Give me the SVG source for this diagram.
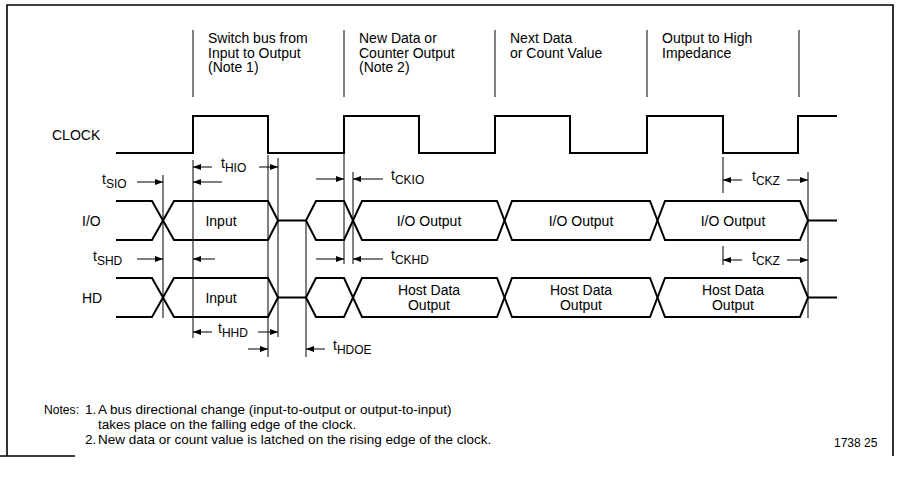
<svg xmlns="http://www.w3.org/2000/svg" width="898" height="477" viewBox="0 0 898 477">
<defs>
<style>
.t{font-family:"Liberation Sans",Arial,sans-serif;font-size:14px;fill:#000}
.s{font-size:12px}
.n{font-family:"Liberation Sans",Arial,sans-serif;font-size:13.5px;fill:#000}
.sig{fill:none;stroke:#000;stroke-width:2}
.mk{fill:none;stroke:#000;stroke-width:1}
.fr{fill:none;stroke:#000;stroke-width:1.6}
</style>
<marker id="ah" viewBox="0 0 8 6" refX="8" refY="3" markerWidth="8" markerHeight="6" markerUnits="userSpaceOnUse" orient="auto">
<path d="M0,0 L8,3 L0,6 Z" fill="#000"/>
</marker>
</defs>
<rect width="898" height="477" fill="#fff"/>
<g id="frame">
<path class="fr" d="M7,456 V5 H893 V456"/>
<path class="fr" d="M0,456 H75"/>
</g>
<g id="headers">
<path class="mk" d="M193,30 V97 M344,30 V97 M495,30 V97 M647,30 V97 M799,30 V97"/>
<text class="t" x="208" y="43">Switch bus from</text>
<text class="t" x="208" y="57.5">Input to Output</text>
<text class="t" x="208" y="72">(Note 1)</text>
<text class="t" x="359" y="43">New Data or</text>
<text class="t" x="359" y="57.5">Counter Output</text>
<text class="t" x="359" y="72">(Note 2)</text>
<text class="t" x="510" y="43">Next Data</text>
<text class="t" x="510" y="57.5">or Count Value</text>
<text class="t" x="662" y="43">Output to High</text>
<text class="t" x="662" y="57.5">Impedance</text>
</g>
<g id="clock">
<text class="t" x="52" y="140">CLOCK</text>
<path class="sig" d="M116,153 H193 V116 H268 V153 H344 V116 H419 V153 H495 V116 H570 V153 H647 V116 H723 V153 H798 V116 H837"/>
</g>
<g id="io">
<text class="t" x="82" y="225.5">I/O</text>
<path class="sig" d="M116,201 H152 L174,240 H268 L278,220.5 L268,201 H174 L152,240 H116"/>
<path class="sig" d="M278,220.5 H306 L316,201 H344 L362,240 H497 L512,201 H650 L665,240 H800 L808,220.5 H837"/>
<path class="sig" d="M306,220.5 L316,240 H344 L362,201 H497 L512,240 H650 L665,201 H800 L808,220.5"/>
<text class="t" x="221" y="225.5" text-anchor="middle">Input</text>
<text class="t" x="429" y="225.5" text-anchor="middle">I/O Output</text>
<text class="t" x="581" y="225.5" text-anchor="middle">I/O Output</text>
<text class="t" x="733" y="225.5" text-anchor="middle">I/O Output</text>
</g>
<g id="hd">
<text class="t" x="82" y="303">HD</text>
<path class="sig" d="M116,278 H152 L174,317 H268 L278,297.5 L268,278 H174 L152,317 H116"/>
<path class="sig" d="M278,297.5 H306 L316,278 H344 L362,317 H497 L512,278 H650 L665,317 H800 L808,297.5 H837"/>
<path class="sig" d="M306,297.5 L316,317 H344 L362,278 H497 L512,317 H650 L665,278 H800 L808,297.5"/>
<text class="t" x="221" y="302.5" text-anchor="middle">Input</text>
<text class="t" x="429" y="295" text-anchor="middle">Host Data</text>
<text class="t" x="429" y="310" text-anchor="middle">Output</text>
<text class="t" x="581" y="295" text-anchor="middle">Host Data</text>
<text class="t" x="581" y="310" text-anchor="middle">Output</text>
<text class="t" x="733" y="295" text-anchor="middle">Host Data</text>
<text class="t" x="733" y="310" text-anchor="middle">Output</text>
</g>
<g id="connectors">
<path class="mk" d="M163,175 V318 M193,160 V338 M268,155 V357 M278,158 V337 M306,221 V357 M344,153 V264 M353,172 V264 M723,157 V193 M723,246 V265 M808,172 V318"/>
<path class="mk" marker-end="url(#ah)" d="M137,182 H163"/>
<path class="mk" marker-end="url(#ah)" d="M222,182 H193"/>
<path class="mk" marker-end="url(#ah)" d="M212,167 H193"/>
<path class="mk" marker-end="url(#ah)" d="M259,167 H278"/>
<path class="mk" marker-end="url(#ah)" d="M316,179 H344"/>
<path class="mk" marker-end="url(#ah)" d="M383,179 H353"/>
<path class="mk" marker-end="url(#ah)" d="M137,259 H163"/>
<path class="mk" marker-end="url(#ah)" d="M215,259 H193"/>
<path class="mk" marker-end="url(#ah)" d="M316,259 H344"/>
<path class="mk" marker-end="url(#ah)" d="M383,259 H353"/>
<path class="mk" marker-end="url(#ah)" d="M212,332 H193"/>
<path class="mk" marker-end="url(#ah)" d="M258,332 H278"/>
<path class="mk" marker-end="url(#ah)" d="M248,349 H268"/>
<path class="mk" marker-end="url(#ah)" d="M325,349 H306"/>
<path class="mk" marker-end="url(#ah)" d="M742,180 H723"/>
<path class="mk" marker-end="url(#ah)" d="M787,180 H808"/>
<path class="mk" marker-end="url(#ah)" d="M742,260 H723"/>
<path class="mk" marker-end="url(#ah)" d="M787,260 H808"/>
</g>
<g id="labels">
<text class="t" x="102" y="184">t<tspan class="s" dy="4">SIO</tspan></text>
<text class="t" x="221" y="168">t<tspan class="s" dy="4">HIO</tspan></text>
<text class="t" x="391" y="180">t<tspan class="s" dy="4">CKIO</tspan></text>
<text class="t" x="93" y="261">t<tspan class="s" dy="4">SHD</tspan></text>
<text class="t" x="391" y="260">t<tspan class="s" dy="4">CKHD</tspan></text>
<text class="t" x="218" y="333">t<tspan class="s" dy="4">HHD</tspan></text>
<text class="t" x="333" y="350">t<tspan class="s" dy="4">HDOE</tspan></text>
<text class="t" x="752" y="181">t<tspan class="s" dy="4">CKZ</tspan></text>
<text class="t" x="752" y="261">t<tspan class="s" dy="4">CKZ</tspan></text>
</g>
<g id="notes">
<text class="n" x="44" y="414" style="font-size:13px" textLength="35" lengthAdjust="spacingAndGlyphs">Notes:</text>
<text class="n" x="85" y="414">1.</text>
<text class="n" x="98" y="414">A bus directional change (input-to-output or output-to-input)</text>
<text class="n" x="98" y="429">takes place on the falling edge of the clock.</text>
<text class="n" x="85" y="444">2.</text>
<text class="n" x="98" y="444">New data or count value is latched on the rising edge of the clock.</text>
<text class="n" x="834" y="447" style="font-size:12px">1738 25</text>
</g>
</svg>
